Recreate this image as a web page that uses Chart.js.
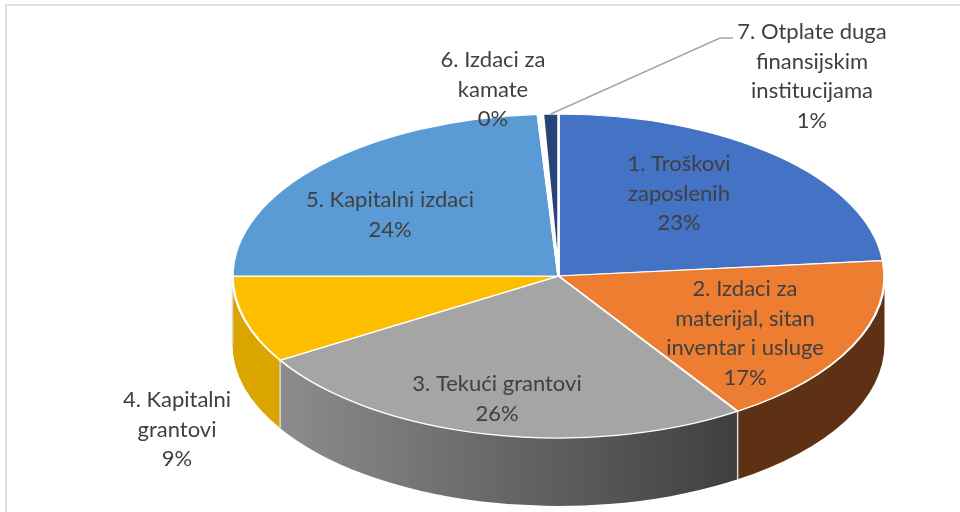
<!DOCTYPE html>
<html>
<head>
<meta charset="utf-8">
<style>
  html, body { margin: 0; padding: 0; background: #fff; }
  #wrap { width: 960px; height: 512px; }
</style>
<script src="https://cdn.jsdelivr.net/npm/chart.js@4"></script>
</head>
<body>
<div id="wrap"><canvas id="pie" width="960" height="512"></canvas></div>
<script>
const categories = [
  "1. Troškovi zaposlenih",
  "2. Izdaci za materijal, sitan inventar i usluge",
  "3. Tekući grantovi",
  "4. Kapitalni grantovi",
  "5. Kapitalni izdaci",
  "6. Izdaci za kamate",
  "7. Otplate duga finansijskim institucijama",
];
const shares = [23.49, 17.25, 25.55, 8.7, 24.0, 0.25, 0.76];
const topColors = ["#4472c4", "#ed7d31", "#a5a5a5", "#fdbe00", "#5b9bd5", "#ffffff", "#264478"];
const wallColors = ["#29447a", "#5e3014", null, "#dba500", "#37608a", "#3c3c3c", "#162948"];

// label wrapping as in the original, last line is the percent
const labelLines = [
  ["1. Troškovi", "zaposlenih"],
  ["2. Izdaci za", "materijal, sitan", "inventar i usluge"],
  ["3. Tekući grantovi"],
  ["4. Kapitalni", "grantovi"],
  ["5. Kapitalni izdaci"],
  ["6. Izdaci za", "kamate"],
  ["7. Otplate duga", "finansijskim", "institucijama"],
];
const labelCenterX = [679, 745, 497, 177, 390, 493, 812];
const labelFirstY = [164, 289, 384, 400, 200, 60, 32];
const lineHeight = 29.5;

const squash = 162 / 326;
const depth = 68;

const pie3d = {
  id: "pie3d",
  beforeDraw(chart) {
    const ctx = chart.ctx;
    ctx.save();
    ctx.fillStyle = "#fff";
    ctx.fillRect(0, 0, chart.width, chart.height);
    ctx.strokeStyle = "#dedede";
    ctx.lineWidth = 2;
    ctx.strokeRect(6, 5, chart.width + 20, chart.height + 20);
    ctx.restore();
  },
  beforeDatasetsDraw(chart) {
    const ctx = chart.ctx;
    const arcs = chart.getDatasetMeta(0).data;
    const { x, y, outerRadius } = arcs[0];
    const rx = outerRadius;
    const ry = outerRadius * squash;
    const grey = ctx.createLinearGradient(x - rx * 0.85, 0, x + rx * 0.55, 0);
    grey.addColorStop(0, "#8c8c8c");
    grey.addColorStop(1, "#3f3f3f");

    ctx.save();
    arcs.forEach((arc, i) => {
      // only the front half of the rim is visible
      const a = Math.max(arc.startAngle, 0);
      const b = Math.min(arc.endAngle, Math.PI);
      if (b <= a) return;
      ctx.beginPath();
      ctx.ellipse(x, y, rx, ry, 0, a, b);
      ctx.ellipse(x, y + depth, rx, ry, 0, b, a, true);
      ctx.closePath();
      ctx.fillStyle = wallColors[i] || grey;
      ctx.fill();
      // light seam between neighbouring walls
      if (a > 0) {
        const sx = x + rx * Math.cos(a);
        const sy = y + ry * Math.sin(a);
        ctx.beginPath();
        ctx.moveTo(sx, sy);
        ctx.lineTo(sx, sy + depth);
        ctx.strokeStyle = "#d9d9d9";
        ctx.lineWidth = 1.5;
        ctx.stroke();
      }
    });
    ctx.restore();

    ctx.save();
    ctx.translate(x, y);
    ctx.scale(1, squash);
    ctx.translate(-x, -y);
  },
  afterDatasetsDraw(chart) {
    const ctx = chart.ctx;
    ctx.restore();

    const arcs = chart.getDatasetMeta(0).data;
    const { x, y, outerRadius } = arcs[0];
    const total = shares.reduce((s, v) => s + v, 0);

    // leader line for the last slice
    const last = arcs[arcs.length - 1];
    const mid = (last.startAngle + last.endAngle) / 2;
    ctx.save();
    ctx.beginPath();
    ctx.moveTo(x + outerRadius * Math.cos(mid), y + outerRadius * squash * Math.sin(mid));
    ctx.lineTo(720, 38);
    ctx.lineTo(733, 38);
    ctx.strokeStyle = "#a6a6a6";
    ctx.lineWidth = 1.5;
    ctx.stroke();

    ctx.font = "22px Lato";
    ctx.fillStyle = "#404040";
    ctx.textAlign = "center";
    ctx.textBaseline = "middle";
    labelLines.forEach((lines, i) => {
      const all = lines.concat(Math.round(shares[i] / total * 100) + "%");
      all.forEach((t, j) => {
        ctx.fillText(t, labelCenterX[i], labelFirstY[i] + j * lineHeight);
      });
    });
    ctx.restore();
  },
};

new Chart(document.getElementById("pie"), {
  type: "pie",
  data: {
    labels: categories,
    datasets: [
      {
        data: shares,
        backgroundColor: topColors,
        borderColor: "#fff",
        borderWidth: 2.5,
        borderAlign: "center",
        radius: 326,
      },
    ],
  },
  options: {
    responsive: false,
    animation: false,
    // shifts the pie centre to where the original has it
    layout: { padding: { left: 157, top: 40 } },
    plugins: {
      legend: { display: false },
      tooltip: { enabled: false },
    },
  },
  plugins: [pie3d],
});
</script>
</body>
</html>
